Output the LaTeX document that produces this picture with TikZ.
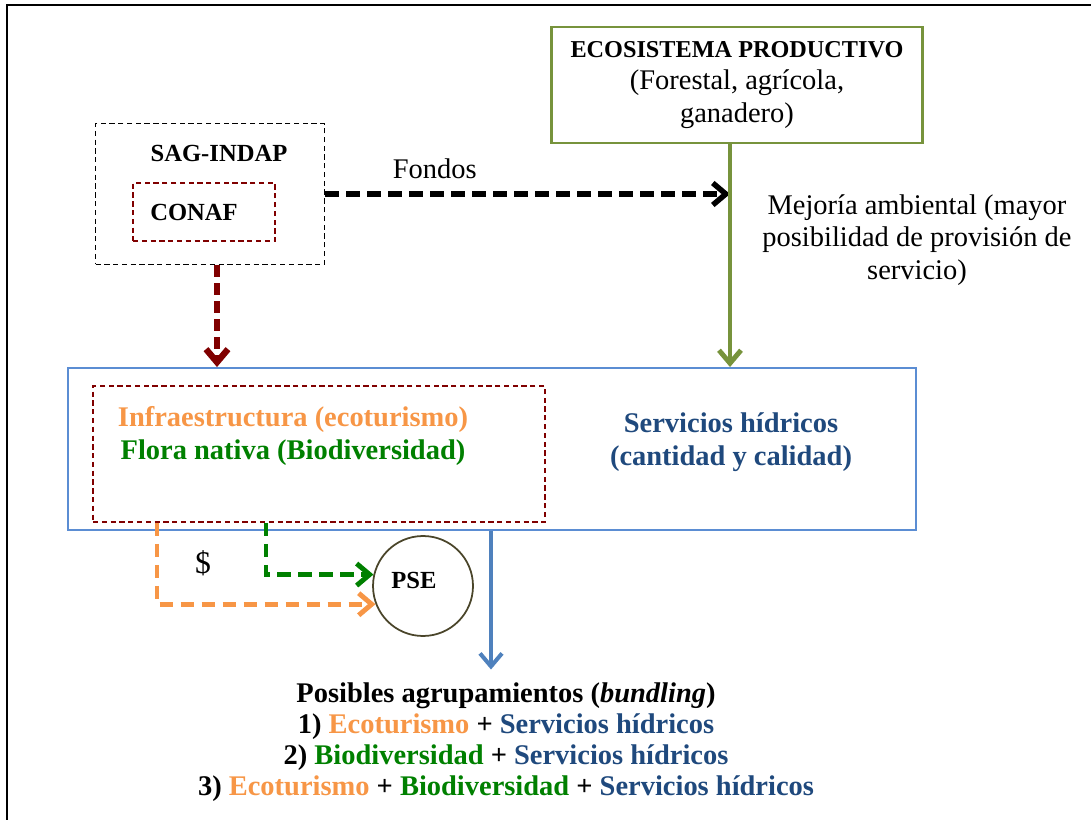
\documentclass[tikz,border=0pt]{standalone}
\usepackage{fontspec}
\setmainfont{Liberation Serif}
\usetikzlibrary{
        arrows.meta,
        positioning,
        shapes.geometric
    }
\definecolor{olivegreen}{HTML}{77933C}
\definecolor{boxblue}{HTML}{5B8DD3}
\definecolor{arrowblue}{HTML}{4F81BD}
\definecolor{darkred}{HTML}{800000}
\definecolor{ecoorange}{HTML}{F79646}
\definecolor{biogreen}{HTML}{008000}
\definecolor{hydroblue}{HTML}{1F497D}
\definecolor{circleedge}{HTML}{4A452A}
\tikzset{>={Straight Barb[length=0.26cm,width=0.44cm]}}
\tikzset{plainbox/.style={draw,rectangle,inner sep=0pt},
        dottedbox/.style={plainbox,dash pattern=on 3pt off 2pt,line width=1.1pt},
        bigdash/.style={line width=#1,dash pattern=on 0.27cm off 0.15cm},
        bold/.style={font=\fontsize{16.2}{18.5}\selectfont\bfseries},
        capsbold/.style={font=\fontsize{14}{18}\selectfont\bfseries}}

\begin{document}
\begin{tikzpicture}[x=0.02cm,y=-0.02cm,font=\fontsize{16.2}{18.5}\selectfont]
            \useasboundingbox (0,0) rectangle (1091,820);
            \draw[line width=1.2pt] (7,830) |- (1100,5);
            % boxes
            \node[plainbox,draw=olivegreen,line width=1.2pt,minimum width=7.42cm,minimum height=2.32cm,align=center] (eco) at (737,85)
                {{\fontsize{13.8}{18}\selectfont\bfseries ECOSISTEMA PRODUCTIVO}\\(Forestal, agrícola,\\ganadero)};
            \node[dottedbox,minimum width=4.58cm,minimum height=2.82cm] (sag) at (210,194) {};
            \node[capsbold] (sagt) at (219,153) {SAG-INDAP};
            \node[dottedbox,draw=darkred,minimum width=2.84cm,minimum height=1.16cm] (conaf) at (204,212) {};
            \node[capsbold] (conaft) at (194,212) {CONAF};
            \node[plainbox,draw=boxblue,line width=1.1pt,minimum width=16.96cm,minimum height=3.24cm] (serv) at (492,449) {};
            \node[dottedbox,draw=darkred,minimum width=9.04cm,minimum height=2.72cm] (flora) at (319,454) {};
            \node[bold,align=center] (florat) at (293,436)
                {\textcolor{ecoorange}{Infraestructura (ecoturismo)}\\\textcolor{biogreen}{Flora nativa (Biodiversidad)}};
            \node[bold,align=center,text=hydroblue] (servt) at (731,442)
                {Servicios hídricos\\(cantidad y calidad)};
            \node[circle,draw=circleedge,line width=1pt,minimum size=2cm,inner sep=0pt] (pse) at (423,586) {};
            \node[capsbold] (pset) at (414,580) {PSE};
            \node[align=center] (mej) at (917,240)
                {Mejoría ambiental (mayor\\posibilidad de provisión de\\servicio)};
            \node[font=\fontsize{18}{20}\selectfont] (pesos) at (203,563) {\$};
            \node[align=center,font=\fontsize{16.2}{17.6}\selectfont\bfseries] (bund) at (506,742)
                {Posibles agrupamientos (\textit{bundling})\\
                 1) \textcolor{ecoorange}{Ecoturismo} + \textcolor{hydroblue}{Servicios hídricos}\\
                 2) \textcolor{biogreen}{Biodiversidad} + \textcolor{hydroblue}{Servicios hídricos}\\
                 3) \textcolor{ecoorange}{Ecoturismo} + \textcolor{biogreen}{Biodiversidad} + \textcolor{hydroblue}{Servicios hídricos}};
            \coordinate (o1) at (157,0);
            \coordinate (g1) at (266,0);
            \coordinate (gl) at (730,0);
            \coordinate (bl) at (491,0);
            % connectors
            \draw[->,bigdash=3.1pt] (sag.east) -- (sag.east -| gl)
                node[pos=0.27,above=4pt] {Fondos};
            \draw[->,olivegreen,line width=2.8pt] (eco.south -| gl) -- (serv.north -| gl);
            \draw[->,darkred,line width=3.6pt,dash pattern=on 0.24cm off 0.12cm] ([xshift=0.14cm]sag.south) -- ([xshift=0.14cm]sag.south |- serv.north);
            \draw[->,ecoorange,bigdash=2.8pt] (flora.south -| o1) |- (pse.201);
            \draw[->,biogreen,bigdash=2.8pt] (flora.south -| g1) |- (pse.167);
            \draw[->,arrowblue,line width=2.3pt] (serv.south -| bl) -- ([yshift=0.14cm]bund.north -| bl);
        \end{tikzpicture}
\end{document}
